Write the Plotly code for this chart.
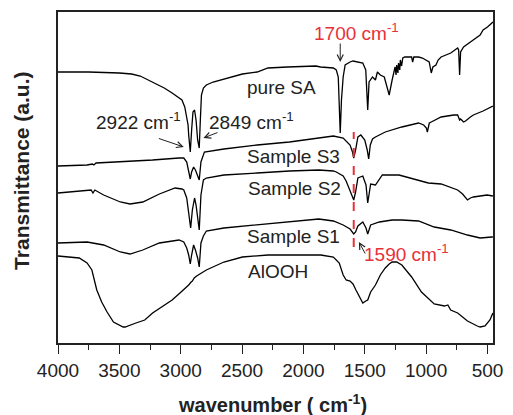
import plotly.graph_objects as go

# ---- data (wavenumber in cm-1, transmittance in arbitrary offset units) ----
sa_wn = [4000, 3750, 3500, 3400, 3330, 3229, 3134, 3070, 3014, 2990, 2967, 2951, 2940, 2935, 2922,
         2911, 2900, 2887, 2875, 2862, 2849, 2840, 2831, 2815, 2791, 2736, 2648, 2608, 2513, 2497,
         2377, 2289, 2130, 1899, 1860, 1756, 1732, 1716, 1700, 1690, 1676, 1660, 1620, 1596, 1516,
         1492, 1476, 1465, 1437, 1413, 1397, 1373, 1341, 1301, 1277, 1253, 1245, 1240, 1230, 1225,
         1215, 1210, 1200, 1190, 1174, 1118, 1110, 1100, 1062, 1030, 975, 958, 945, 920, 902, 878,
         799, 760, 743, 735, 727, 719, 703, 695, 639, 583, 560, 536, 500, 464, 456]
sa_t = [271, 271, 270, 269, 267, 261, 255, 250, 245, 243, 236, 225, 218, 208, 191,
        213, 231, 233, 223, 203, 195, 223, 248, 255, 258, 261, 264, 265, 268, 269,
        271, 275, 276, 277, 276, 275, 273, 266, 210, 243, 266, 278, 281, 282, 280,
        273, 233, 261, 266, 263, 271, 268, 266, 248, 263, 276, 268, 278, 270, 280,
        273, 283, 277, 285, 286, 286, 281, 286, 286, 285, 281, 270, 276, 278, 283, 286,
        290, 293, 295, 293, 268, 291, 295, 296, 301, 306, 308, 313, 316, 320, 321]

s3_wn = [4000, 3763, 3720, 3708, 3690, 3492, 3229, 3014, 2975, 2951, 2935, 2922, 2911, 2895, 2880,
         2862, 2849, 2835, 2815, 2807, 2648, 2377, 2114, 1875, 1756, 1676, 1620, 1600, 1590, 1575,
         1556, 1532, 1500, 1480, 1468, 1455, 1437, 1413, 1333, 1198, 1062, 1020, 998, 990, 974,
         958, 878, 775, 743, 727, 719, 695, 679, 639, 615, 536, 456]
s3_t = [177, 178, 179, 178, 180, 181, 183, 185, 185, 181, 173, 164, 171, 176, 173,
        167, 163, 181, 188, 191, 194, 198, 201, 205, 207, 205, 198, 191, 185, 193,
        206, 208, 203, 193, 184, 198, 204, 206, 211, 216, 220, 218, 215, 211, 220,
        221, 226, 228, 228, 223, 224, 221, 222, 226, 228, 232, 237]

s2_wn = [4000, 3763, 3730, 3715, 3700, 3628, 3492, 3413, 3309, 3174, 3046, 2990, 2975, 2951, 2935,
         2919, 2905, 2887, 2875, 2862, 2849, 2835, 2815, 2791, 2648, 2377, 2114, 1875, 1756, 1732,
         1676, 1652, 1620, 1590, 1575, 1556, 1516, 1490, 1476, 1460, 1452, 1413, 1357, 1221, 1094,
         982, 878, 743, 703, 679, 663, 639, 615, 504, 456]
s2_t = [150, 153, 153, 150, 153, 148, 141, 139, 141, 149, 155, 154, 153, 145, 131,
        115, 133, 145, 138, 123, 113, 148, 163, 165, 168, 170, 172, 173, 172, 171,
        167, 162, 153, 143, 151, 165, 167, 158, 140, 155, 159, 158, 168, 168, 164,
        160, 159, 153, 149, 146, 143, 145, 146, 148, 147]

s1_wn = [4000, 3763, 3628, 3492, 3413, 3309, 3174, 3014, 2975, 2951, 2935, 2922, 2911, 2895, 2880,
         2862, 2849, 2835, 2815, 2791, 2648, 2377, 2114, 1875, 1756, 1676, 1620, 1590, 1575, 1556,
         1516, 1490, 1476, 1460, 1452, 1381, 1277, 1198, 1062, 934, 799, 663, 560, 464, 456]
s1_t = [100, 101, 98, 91, 89, 93, 100, 103, 101, 95, 88, 79, 88, 98, 93,
        85, 76, 100, 107, 112, 115, 118, 121, 124, 122, 118, 114, 109, 111, 117,
        121, 115, 109, 115, 118, 121, 123, 123, 122, 116, 113, 108, 105, 106, 106]

al_wn = [4000, 3867, 3827, 3763, 3724, 3684, 3644, 3600, 3548, 3469, 3453, 3365, 3293, 3229, 3134,
         3070, 3006, 2967, 2935, 2915, 2905, 2890, 2870, 2791, 2648, 2497, 2289, 2130, 1859, 1756,
         1708, 1676, 1652, 1620, 1596, 1572, 1540, 1516, 1492, 1476, 1452, 1413, 1373, 1333, 1301,
         1277, 1240, 1198, 1118, 1038, 934, 850, 823, 800, 743, 663, 583, 560, 520, 480, 456]
al_t = [87, 86, 85, 80, 73, 53, 41, 31, 21, 16, 16, 20, 23, 30, 38,
        43, 50, 54, 58, 61, 62, 65, 67, 73, 81, 86, 88, 88, 88, 86,
        80, 68, 63, 62, 59, 53, 45, 40, 42, 43, 51, 58, 68, 75, 79,
        81, 81, 78, 66, 51, 39, 37, 38, 33, 30, 22, 17, 16, 17, 23, 30]

series = [("pure SA", sa_wn, sa_t), ("Sample S3", s3_wn, s3_t), ("Sample S2", s2_wn, s2_t),
          ("Sample S1", s1_wn, s1_t), ("AlOOH", al_wn, al_t)]

# labels: (text, wn, t, colour)
labels = [("pure SA", 2178, 256, "#222"),
          ("2922 cm<sup>-1</sup>", 3341, 222, "#222"),
          ("2849 cm<sup>-1</sup>", 2425, 222, "#222"),
          ("Sample S3", 2082, 187, "#222"),
          ("Sample S2", 2074, 155, "#222"),
          ("Sample S1", 2081, 107, "#222"),
          ("AlOOH", 2205, 72, "#222"),
          ("1700 cm<sup>-1</sup>", 1564, 311, "#e8303a"),
          ("1590 cm<sup>-1</sup>", 1158, 90, "#e8303a")]

# arrows: (head wn, head t, tail wn, tail t)
arrows = [(1700, 281, 1700, 301),
          (2975, 196, 3190, 205),
          (2815, 205, 2688, 211),
          (1548, 101, 1490, 88)]

marker_wn = 1590
marker_t = [96, 211]

RED = "#e8303a"
FONT = "Liberation Sans, Arial, sans-serif"

fig = go.Figure()
for name, wn, t in series:
    fig.add_trace(go.Scatter(x=wn, y=t, mode="lines", name=name,
                             line=dict(color="black", width=1.3), showlegend=False))

fig.add_trace(go.Scatter(x=[marker_wn, marker_wn], y=marker_t, mode="lines",
                         line=dict(color=RED, width=2, dash="dash"), showlegend=False))

for text, x, y, c in labels:
    fig.add_annotation(x=x, y=y, text=text, showarrow=False, xanchor="center", yanchor="middle",
                       font=dict(family=FONT, size=19, color=c))

for hx, hy, tx, ty in arrows:
    fig.add_annotation(x=hx, y=hy, ax=tx, ay=ty, axref="x", ayref="y", xref="x", yref="y",
                       text="", showarrow=True, arrowhead=5, arrowsize=1.2, arrowwidth=1,
                       arrowcolor="#222")

# axis titles
fig.add_annotation(xref="paper", yref="paper", x=0.493, y=0, yshift=-60, showarrow=False,
                   xanchor="center", yanchor="middle",
                   text="<b>wavenumber ( cm<sup>-1</sup>)</b>",
                   font=dict(family=FONT, size=20, color="#222"))
fig.add_annotation(xref="paper", yref="paper", x=0, xshift=-36, y=0.52, showarrow=False,
                   xanchor="center", yanchor="middle", textangle=-90,
                   text="<b>Transmittance (a.u.)</b>",
                   font=dict(family=FONT, size=21, color="#222"))

fig.update_layout(
    width=513, height=415,
    margin=dict(l=58, r=10, t=12, b=72),
    paper_bgcolor="white", plot_bgcolor="white",
    xaxis=dict(range=[4000, 455], tick0=500, dtick=500, ticks="outside", ticklen=9,
               tickwidth=1.2, tickcolor="#222", showline=True, linecolor="#222", linewidth=1.5,
               mirror=True, showgrid=False, zeroline=False,
               tickfont=dict(family=FONT, size=19, color="#222"),
               minor=dict(dtick=250, ticks="outside", ticklen=5, tickwidth=1.2, tickcolor="#222")),
    yaxis=dict(range=[0, 331], showticklabels=False, ticks="", showline=True, linecolor="#222",
               linewidth=1.5, mirror=True, showgrid=False, zeroline=False),
)

fig.write_html("out.html", config={"displayModeBar": False},
               post_script="document.body.style.margin='0';document.body.style.overflow='hidden';")
